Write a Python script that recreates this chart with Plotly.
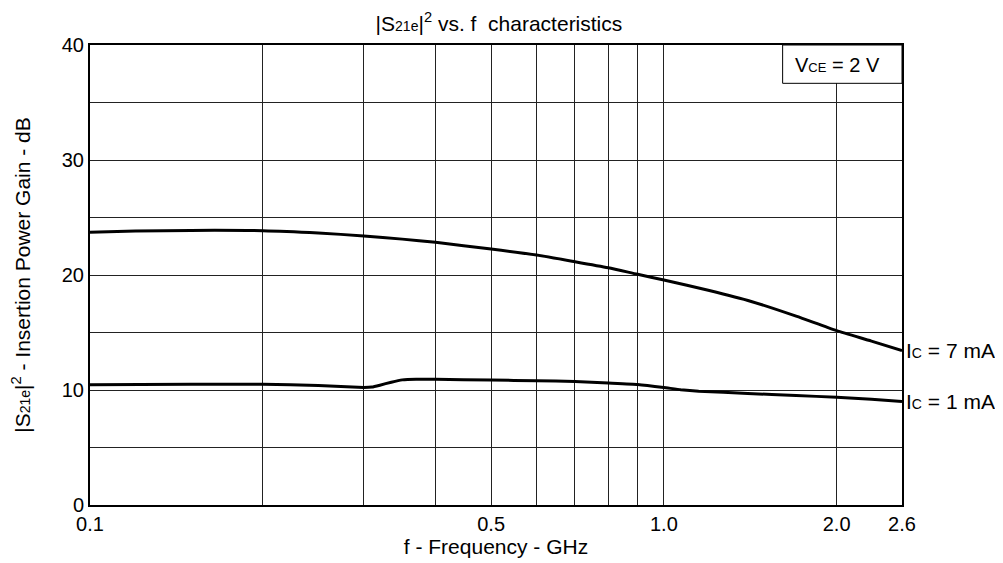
import plotly.graph_objects as go

# Frequency (GHz) and gain (dB)
f_7mA = [0.1, 0.12, 0.15, 0.2, 0.25, 0.3, 0.35, 0.4, 0.5, 0.6, 0.7, 0.8, 0.9, 1.0, 1.2, 1.42, 1.7, 2.0, 2.3, 2.6]
g_7mA = [23.72, 23.82, 23.88, 23.85, 23.65, 23.4, 23.12, 22.84, 22.26, 21.74, 21.16, 20.63, 20.06, 19.57, 18.65, 17.7, 16.42, 15.16, 14.25, 13.42]

f_1mA = [0.1, 0.15, 0.2, 0.25, 0.3, 0.31, 0.32, 0.335, 0.35, 0.37, 0.4, 0.5, 0.6, 0.7, 0.8, 0.9, 1.0, 1.07, 1.15, 1.4, 1.7, 2.0, 2.3, 2.6]
g_1mA = [10.46, 10.5, 10.5, 10.4, 10.22, 10.26, 10.42, 10.68, 10.88, 10.94, 10.93, 10.87, 10.8, 10.74, 10.6, 10.48, 10.22, 10.02, 9.9, 9.7, 9.52, 9.37, 9.2, 9.0]

x_tickvals = [0.1, 0.2, 0.3, 0.4, 0.5, 0.6, 0.7, 0.8, 0.9, 1.0, 2.0, 2.6]
x_ticktext = ['0.1', '', '', '', '0.5', '', '', '', '', '1.0', '2.0', '2.6']
y_tickvals = [0, 5, 10, 15, 20, 25, 30, 35, 40]
y_ticktext = ['0', '', '10', '', '20', '', '30', '', '40']

FONT = "Liberation Sans, Arial, sans-serif"
small = "<span style='font-size:13px'>{}</span>"
small14 = "<span style='font-size:14px'>{}</span>"

fig = go.Figure()
fig.add_trace(go.Scatter(x=f_7mA, y=g_7mA, mode='lines', line=dict(color='black', width=3, shape='spline', smoothing=0.6),
                         showlegend=False, hoverinfo='skip'))
fig.add_trace(go.Scatter(x=f_1mA, y=g_1mA, mode='lines', line=dict(color='black', width=3, shape='spline', smoothing=0.3),
                         showlegend=False, hoverinfo='skip'))

fig.update_layout(
    width=1003, height=563,
    margin=dict(l=82, r=109, t=37, b=66),
    paper_bgcolor='white', plot_bgcolor='white',
    font=dict(family=FONT, size=20, color='black'),
    title=dict(text='|S' + small14.format('21e') + '|<sup>2</sup> vs. f  characteristics', x=0.4895, xanchor='center',
               y=0.972, yanchor='middle', font=dict(size=21)),
    xaxis=dict(type='log', range=[-1, 0.41497], tickmode='array', tickvals=x_tickvals, ticktext=x_ticktext,
               showgrid=True, gridcolor='#222', gridwidth=1, showline=True, linecolor='black', linewidth=2,
               mirror=True, ticks='', zeroline=False, tickfont=dict(size=20),
               title=dict(text='f - Frequency - GHz', font=dict(size=21), standoff=3)),
    yaxis=dict(range=[0, 40], tickmode='array', tickvals=y_tickvals, ticktext=y_ticktext,
               showgrid=True, gridcolor='#222', gridwidth=1, showline=True, linecolor='black', linewidth=2,
               mirror=True, ticks='', zeroline=False, tickfont=dict(size=20),
               title=dict(text='|S' + small14.format('21e') + '|<sup>2</sup> - Insertion Power Gain - dB',
                          font=dict(size=21), standoff=26)),
)

# V_CE box
fig.add_shape(type='rect', xref='paper', yref='paper', x0=0.853, x1=1.0, y0=0.9167, y1=1.0,
              line=dict(color='black', width=1), fillcolor='white', layer='above')
fig.add_annotation(xref='paper', yref='paper', x=0.92, y=0.9565, text='V' + small.format('CE') + ' = 2 V',
                   showarrow=False, xanchor='center', yanchor='middle', font=dict(size=20))

# Curve labels
fig.add_annotation(xref='paper', yref='y', x=1.003, y=g_7mA[-1], text='I' + small14.format('C') + ' = 7 mA',
                   showarrow=False, xanchor='left', yanchor='middle', font=dict(size=21))
fig.add_annotation(xref='paper', yref='y', x=1.003, y=g_1mA[-1], text='I' + small14.format('C') + ' = 1 mA',
                   showarrow=False, xanchor='left', yanchor='middle', font=dict(size=21))

fig.write_html("out.html")
